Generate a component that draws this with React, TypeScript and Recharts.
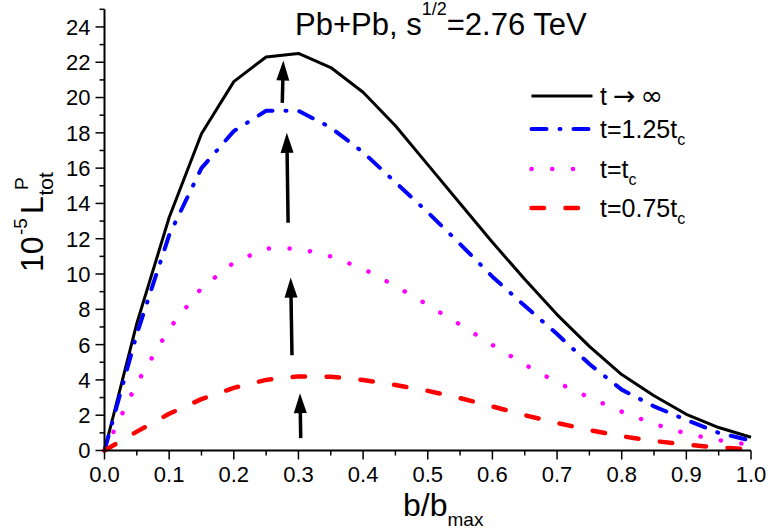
import { LineChart, Line, XAxis, YAxis, Legend, ReferenceLine } from "recharts";

// impact parameter grid b/b_max
const bValues = [0, 0.05, 0.1, 0.15, 0.2, 0.25, 0.3, 0.35, 0.4, 0.45, 0.5, 0.55, 0.6, 0.65, 0.7, 0.75, 0.8, 0.85, 0.9, 0.95, 1.0];

// 10^-5 L_tot^P for each time
const tInfinity = [0, 7.2, 13.2, 17.95, 20.9, 22.3, 22.5, 21.7, 20.3, 18.4, 16.2, 14.0, 11.8, 9.7, 7.7, 5.9, 4.3, 3.1, 2.05, 1.3, 0.75];
const t125 = [0, 6.6, 12.2, 16.0, 18.1, 19.25, 19.25, 18.3, 16.9, 15.2, 13.5, 11.7, 9.85, 8.2, 6.6, 4.9, 3.45, 2.5, 1.73, 1.0, 0.56];
const tC = [0, 3.8, 6.9, 9.2, 10.65, 11.45, 11.45, 11.0, 10.3, 9.32, 8.25, 7.13, 5.98, 4.87, 3.86, 3.0, 2.2, 1.51, 0.96, 0.59, 0.31];
const t075 = [0, 1.07, 2.08, 2.91, 3.55, 4.0, 4.2, 4.18, 4.0, 3.71, 3.38, 2.97, 2.5, 2.0, 1.56, 1.16, 0.81, 0.54, 0.33, 0.17, 0.07];

const xTicks = [0, 0.05, 0.1, 0.15, 0.2, 0.25, 0.3, 0.35, 0.4, 0.45, 0.5, 0.55, 0.6, 0.65, 0.7, 0.75, 0.8, 0.85, 0.9, 0.95, 1.0];
const yTicks = [0, 1, 2, 3, 4, 5, 6, 7, 8, 9, 10, 11, 12, 13, 14, 15, 16, 17, 18, 19, 20, 21, 22, 23, 24, 25];

// arrows: start (b, value) -> tip (b, value)
const arrowFromB = [0.3035, 0.29, 0.284, 0.275];
const arrowFromV = [0.7, 5.4, 12.9, 19.7];
const arrowToB = [0.3024, 0.288, 0.282, 0.2766];
const arrowToV = [3.25, 9.8, 18.0, 22.1];

const FONT = '"Liberation Sans", Arial, sans-serif';
const SYMBOL_FONT = '"DejaVu Sans", sans-serif';

const series = [
  { key: "tInf", label: "t", sub: "", color: "#000000", width: 3, dash: undefined },
  { key: "t125", label: "t=1.25t", sub: "c", color: "#0000FF", width: 4, dash: "15 13 1 13" },
  { key: "tC", label: "t=t", sub: "c", color: "#FF00FF", width: 4.5, dash: "0.1 20.6" },
  { key: "t075", label: "t=0.75t", sub: "c", color: "#FF0000", width: 4.5, dash: "12.5 21.5" },
];

const rows = bValues.map((b, i) => ({
  b,
  tInf: tInfinity[i],
  t125: t125[i],
  tC: tC[i],
  t075: t075[i],
}));

function XTick({ x, y, payload }: any) {
  const major = Math.round(payload.value * 100) % 10 === 0;
  return (
    <g>
      <line x1={x} y1={y} x2={x} y2={y + (major ? 9 : 5)} stroke="#000" strokeWidth={1.5} />
      {major && (
        <text x={x} y={y + 31.5} textAnchor="middle" fontSize={22} fontFamily={FONT} fill="#000">
          {payload.value.toFixed(1)}
        </text>
      )}
    </g>
  );
}

function YTick({ x, y, payload }: any) {
  const major = payload.value % 2 === 0 && payload.value <= 24;
  return (
    <g>
      <line x1={x} y1={y} x2={x - (major ? 9 : 5)} y2={y} stroke="#000" strokeWidth={1.5} />
      {major && (
        <text x={x - 14} y={y} dy="0.36em" textAnchor="end" fontSize={22} fontFamily={FONT} fill="#000">
          {payload.value}
        </text>
      )}
    </g>
  );
}

function ArrowShape({ x1, y1, x2, y2 }: any) {
  const len = Math.hypot(x2 - x1, y2 - y1);
  const ux = (x2 - x1) / len;
  const uy = (y2 - y1) / len;
  const headLen = 20;
  const half = 6.5;
  const bx = x2 - ux * headLen;
  const by = y2 - uy * headLen;
  return (
    <g>
      <line x1={x1} y1={y1} x2={bx + ux * 2} y2={by + uy * 2} stroke="#000" strokeWidth={3.5} />
      <polygon
        points={`${x2},${y2} ${bx - uy * half},${by + ux * half} ${bx + uy * half},${by - ux * half}`}
        fill="#000"
      />
    </g>
  );
}

function LegendBox() {
  const rowsY = [26, 59, 99, 138];
  return (
    <svg width={251} height={160}>
      {series.map((s, i) => (
        <g key={s.key}>
          <line
            x1={11.5}
            x2={72.5}
            y1={rowsY[i]}
            y2={rowsY[i]}
            stroke={s.color}
            strokeWidth={s.width}
            strokeDasharray={s.dash}
            strokeLinecap={s.dash ? "round" : "butt"}
          />
          <text x={80} y={rowsY[i] + 9} fontSize={25} fontFamily={FONT} fill="#000">
            {s.label}
            {s.sub && (
              <tspan fontSize={16} dy={7}>
                {s.sub}
              </tspan>
            )}
            {i === 0 && (
              <>
                <tspan fontFamily={SYMBOL_FONT} fontSize={27} dx={6}>{"\u2192"}</tspan>
                <tspan fontFamily={SYMBOL_FONT} fontSize={27} dx={5}>{"\u221E"}</tspan>
              </>
            )}
          </text>
        </g>
      ))}
    </svg>
  );
}

function XLabel() {
  return (
    <text x={403} y={516} fontSize={32} fontFamily={FONT} fill="#000">
      b/b
      <tspan fontSize={19} dy={10}>max</tspan>
    </text>
  );
}

function YLabel() {
  return (
    <g transform="translate(43, 272) rotate(-90)" fontFamily={FONT} fill="#000">
      <text x={0} y={0} fontSize={32}>10</text>
      <text x={37} y={-16} fontSize={19}>-5</text>
      <text x={58} y={0} fontSize={32}>L</text>
      <text x={76.5} y={10} fontSize={21}>tot</text>
      <text x={82} y={-15} fontSize={19}>P</text>
    </g>
  );
}

export default function App() {
  return (
    <div style={{ position: "absolute", left: 0, top: 0, width: 771, height: 531, background: "#fff" }}>
      <LineChart width={771} height={531} data={rows} margin={{ top: 9.3, right: 20, bottom: 20.5, left: 44.5 }}>
        <XAxis
          type="number"
          dataKey="b"
          domain={[0, 1]}
          ticks={xTicks}
          interval={0}
          tick={<XTick />}
          tickLine={false}
          tickSize={0}
          tickMargin={0}
          height={60}
          axisLine={{ stroke: "#000", strokeWidth: 2 }}
          label={{ content: () => <XLabel /> }}
        />
        <YAxis
          type="number"
          domain={[0, 25]}
          ticks={yTicks}
          interval={0}
          tick={<YTick />}
          tickLine={false}
          tickSize={0}
          tickMargin={0}
          width={60}
          axisLine={{ stroke: "#000", strokeWidth: 2 }}
          label={{ content: () => <YLabel /> }}
        />
        {series.map((s) => (
          <Line
            key={s.key}
            type="linear"
            dataKey={s.key}
            name={s.label}
            stroke={s.color}
            strokeWidth={s.width}
            strokeDasharray={s.dash}
            strokeLinecap={s.dash ? "round" : "butt"}
            strokeLinejoin="round"
            dot={false}
            activeDot={false}
            isAnimationActive={false}
          />
        ))}
        {arrowFromB.map((b, i) => (
          <ReferenceLine
            key={`arrow-${i}`}
            segment={[
              { x: b, y: arrowFromV[i] },
              { x: arrowToB[i], y: arrowToV[i] },
            ]}
            shape={ArrowShape}
          />
        ))}
        <Legend
          layout="vertical"
          align="center"
          verticalAlign="middle"
          wrapperStyle={{ left: 520, top: 70, width: 251, height: 160 }}
          content={() => <LegendBox />}
        />
      </LineChart>
      <svg
        width={771}
        height={50}
        style={{ position: "absolute", left: 0, top: 0, pointerEvents: "none" }}
      >
        <text x={295} y={35} fontSize={31} fontFamily={FONT} fill="#000">
          Pb+Pb, s
          <tspan fontSize={18} dy={-20}>1/2</tspan>
          <tspan dy={20}>=2.76 TeV</tspan>
        </text>
      </svg>
    </div>
  );
}
